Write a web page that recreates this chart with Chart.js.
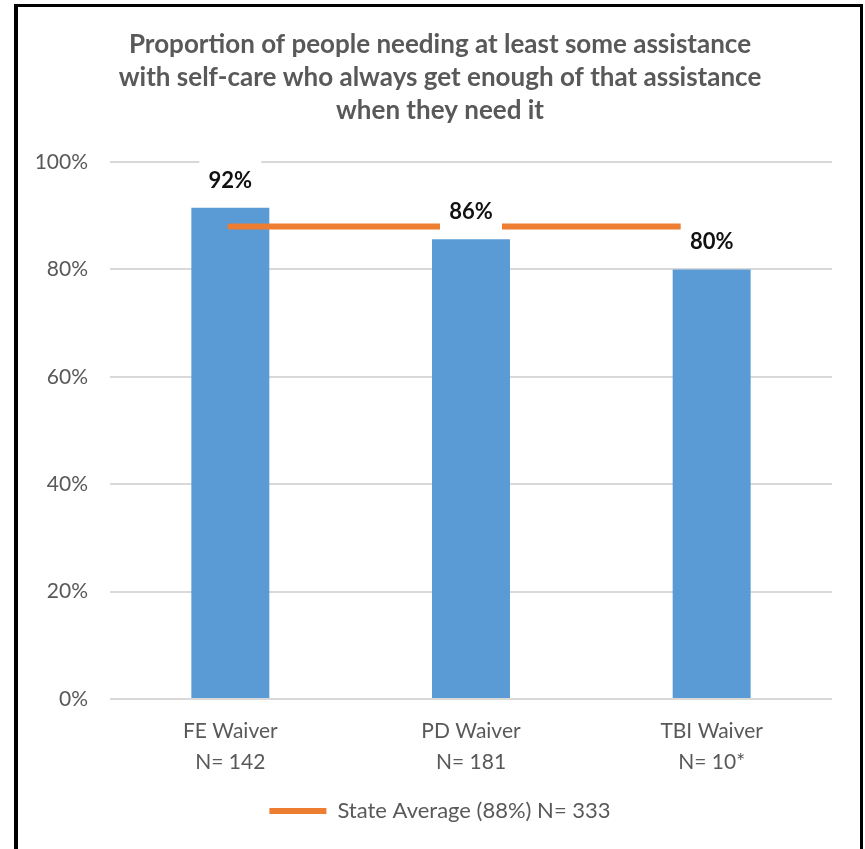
<!DOCTYPE html>
<html>
<head>
<meta charset="utf-8">
<script src="https://cdn.jsdelivr.net/npm/chart.js@4"></script>
<style>
  html, body { margin: 0; padding: 0; background: #ffffff; }
  #wrap { position: relative; width: 865px; height: 849px; overflow: hidden; }
  #frame { position: absolute; left: 14px; top: 4px; width: 849px; height: 900px; box-sizing: border-box;
           border-left: 4px solid #000; border-top: 3px solid #000; border-right: 3px solid #000; pointer-events: none; }
  canvas { position: absolute; left: 0; top: 0; }
</style>
</head>
<body>
<div id="wrap">
  <canvas id="c" width="865" height="849"></canvas>
  <div id="frame"></div>
</div>
<script>
// ---- data ----
const titleLines = [
  'Proportion of people needing at least some assistance',
  'with self-care who always get enough of that assistance',
  'when they need it'
];
const categories = [['FE Waiver', 'N= 142'], ['PD Waiver', 'N= 181'], ['TBI Waiver', 'N= 10*']];
const waiverValues = [91.5, 85.6, 80.0];
const valueLabels = ['92%', '86%', '80%'];
const stateAverage = 88;
const stateAverageLabel = 'State Average (88%) N= 333';
const stateAverageSpan = [0, 1.88]; // in category-index units
const yTicks = [0, 20, 40, 60, 80, 100];

const FONT = 'Lato, "Open Sans", sans-serif';
const GRAY = '#595959';

const dataLabelPlugin = {
  id: 'dataLabels',
  afterDatasetsDraw(chart) {
    const ctx = chart.ctx;
    const meta = chart.getDatasetMeta(1);
    ctx.save();
    ctx.font = 'bold 22px ' + FONT;
    ctx.textAlign = 'center';
    ctx.textBaseline = 'middle';
    meta.data.forEach((bar, i) => {
      const cx = bar.x;
      const cy = bar.y - 28;
      ctx.fillStyle = '#ffffff';
      ctx.fillRect(cx - 31, cy - 21, 62, 42);
      ctx.fillStyle = '#111111';
      ctx.fillText(valueLabels[i], cx, cy + 1);
    });
    ctx.restore();
  }
};

new Chart(document.getElementById('c'), {
  data: {
    labels: categories,
    datasets: [
      {
        type: 'line',
        label: stateAverageLabel,
        data: stateAverageSpan.map(x => ({ x: x, y: stateAverage })),
        xAxisID: 'xLine',
        yAxisID: 'y',
        borderColor: '#ED7D31',
        backgroundColor: '#ED7D31',
        borderWidth: 6,
        borderCapStyle: 'round',
        pointRadius: 0,
        order: 0
      },
      {
        type: 'bar',
        label: 'Waiver',
        data: waiverValues,
        xAxisID: 'x',
        yAxisID: 'y',
        backgroundColor: '#5B9BD5',
        borderWidth: 0,
        grouped: false,
        categoryPercentage: 1.0,
        barPercentage: 0.324,
        order: 1
      }
    ]
  },
  options: {
    responsive: false,
    animation: false,
    layout: { padding: { left: 18, right: 3, top: 0, bottom: 17 } },
    plugins: {
      title: {
        display: true,
        text: titleLines,
        color: GRAY,
        font: { family: FONT, size: 26, weight: 'bold', lineHeight: 33 / 26 },
        padding: { top: 28, bottom: 35 }
      },
      legend: {
        display: true,
        position: 'bottom',
        labels: {
          font: { family: FONT, size: 22 },
          color: GRAY,
          boxWidth: 57,
          boxHeight: 6,
          padding: 10,
          generateLabels: chart => [{
            text: stateAverageLabel,
            fillStyle: '#ED7D31',
            strokeStyle: '#ED7D31',
            lineWidth: 0,
            fontColor: GRAY,
            datasetIndex: 0
          }]
        }
      },
      tooltip: { enabled: false }
    },
    scales: {
      x: {
        type: 'category',
        grid: { display: false, drawTicks: false },
        border: { display: false },
        ticks: { color: GRAY, font: { family: FONT, size: 21, lineHeight: 31 / 21 }, padding: 17, maxRotation: 0 },
        afterFit(s) { s.height = 91; }
      },
      xLine: {
        type: 'linear',
        display: false,
        min: -0.5,
        max: 2.5
      },
      y: {
        type: 'linear',
        min: 0,
        max: 100,
        afterBuildTicks(s) { s.ticks = yTicks.map(v => ({ value: v })); },
        grid: { color: '#D9D9D9', lineWidth: 2, drawTicks: false },
        border: { display: false },
        ticks: { color: GRAY, font: { family: FONT, size: 21 }, padding: 22, callback: v => v + '%' },
        afterFit(s) { s.width = 92; }
      },
      yR: {
        type: 'linear',
        position: 'right',
        display: true,
        grid: { display: false, drawTicks: false },
        border: { display: false },
        ticks: { display: false },
        afterFit(s) { s.width = 30; }
      }
    }
  },
  plugins: [dataLabelPlugin]
});
</script>
</body>
</html>
